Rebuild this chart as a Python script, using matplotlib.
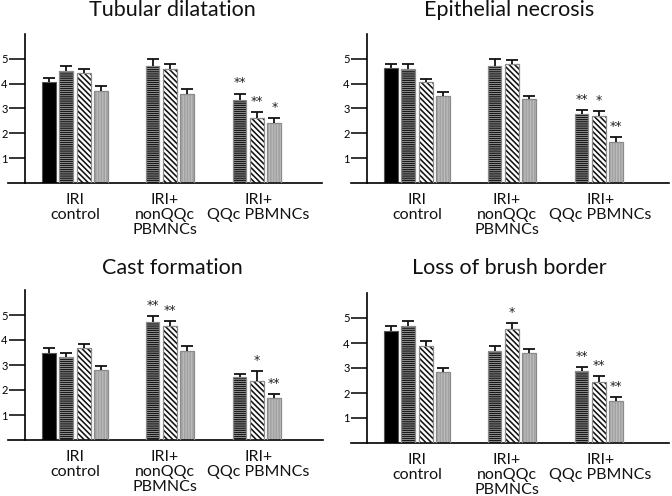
import numpy as np
import matplotlib
matplotlib.use("Agg")
import matplotlib.pyplot as plt
from matplotlib.transforms import offset_copy

plt.rcParams['font.family'] = ['Lato', 'DejaVu Sans']
plt.rcParams['hatch.linewidth'] = 1.15

# ---------------- data ----------------
group_labels = ["IRI\ncontrol", "IRI+\nnonQQc\nPBMNCs", "IRI+\nQQc PBMNCs"]
bar_group = [0, 0, 0, 0, 1, 1, 1, 2, 2, 2]
bar_style = ["solid", "horiz", "diag", "gray",
             "horiz", "diag", "gray",
             "horiz", "diag", "gray"]

titles = ["Tubular dilatation", "Epithelial necrosis", "Cast formation", "Loss of brush border"]

tubular_mean = [4.05, 4.50, 4.43, 3.72, 4.73, 4.59, 3.58, 3.35, 2.61, 2.41]
tubular_err = [0.17, 0.20, 0.17, 0.17, 0.27, 0.21, 0.20, 0.25, 0.25, 0.20]
tubular_sig = ["", "", "", "", "", "", "", "**", "**", "*"]

epithelial_mean = [4.63, 4.59, 4.05, 3.49, 4.73, 4.81, 3.38, 2.79, 2.71, 1.67]
epithelial_err = [0.17, 0.19, 0.14, 0.16, 0.27, 0.16, 0.11, 0.16, 0.20, 0.18]
epithelial_sig = ["", "", "", "", "", "", "", "**", "*", "**"]

cast_mean = [3.49, 3.31, 3.67, 2.80, 4.73, 4.56, 3.57, 2.51, 2.36, 1.69]
cast_err = [0.18, 0.18, 0.16, 0.16, 0.24, 0.21, 0.19, 0.12, 0.41, 0.14]
cast_sig = ["", "", "", "", "**", "**", "", "", "*", "**"]

brush_mean = [4.47, 4.67, 3.89, 2.83, 3.69, 4.57, 3.60, 2.87, 2.44, 1.70]
brush_err = [0.20, 0.20, 0.18, 0.17, 0.18, 0.23, 0.17, 0.16, 0.23, 0.14]
brush_sig = ["", "", "", "", "", "*", "", "**", "**", "**"]

yticks = [1, 2, 3, 4, 5]

# ---------------- layout ----------------
W, H = 672, 496
DPI = 100
PITCH = 17.4  # px per x unit
xpos = np.array([0, 1, 2, 3, 5.95, 6.95, 7.95, 10.95, 11.95, 12.95])
BAR_W = 0.8
label_dx = [0.0, -0.3, 0.1]
# (left_px, right_px, x0_px, baseline_px, top_px, yaxis_px)
panels_px = [
    (8, 322, 49, 183, 34, 25),
    (351, 669, 391, 183, 34, 367),
    (8, 323, 49, 440, 290, 25),
    (351, 669, 391, 443, 293, 367),
]
title_px = [(172, 10), (509, 10), (172, 268), (509, 268)]

fig = plt.figure(figsize=(W / DPI, H / DPI), dpi=DPI)

datasets = [
    (tubular_mean, tubular_err, tubular_sig),
    (epithelial_mean, epithelial_err, epithelial_sig),
    (cast_mean, cast_err, cast_sig),
    (brush_mean, brush_err, brush_sig),
]

edge_gray = "#8a8a8a"

for (means, errs, sigs), (lp, rp, x0, bp, tp, yp), title, (tx, ty) in zip(
        datasets, panels_px, titles, title_px):
    ax = fig.add_axes([lp / W, 1 - bp / H, (rp - lp) / W, (bp - tp) / H])
    ax.set_xlim((lp - x0) / PITCH, (rp - x0) / PITCH)
    ax.set_ylim(0, 6)
    means = np.asarray(means)
    errs = np.asarray(errs)

    for i, style in enumerate(bar_style):
        x = xpos[i]
        m = means[i]
        if style == "solid":
            ax.bar(x, m, BAR_W, color="black", edgecolor="#555555", linewidth=0.8, zorder=2)
        elif style == "horiz":
            ax.bar(x, m, BAR_W, color="white", edgecolor="#1a1a1a", hatch="--------",
                   linewidth=0, zorder=2)
            ax.bar(x, m, BAR_W, fill=False, edgecolor=edge_gray, linewidth=0.9, zorder=3)
        elif style == "diag":
            ax.bar(x, m, BAR_W, color="white", edgecolor="#111111", hatch="\\\\\\\\\\\\",
                   linewidth=0, zorder=2)
            ax.bar(x, m, BAR_W, fill=False, edgecolor=edge_gray, linewidth=0.9, zorder=3)
        else:
            ax.bar(x, m, BAR_W, color="#bdbdbd", edgecolor="#a2a2a2", hatch="||||||",
                   linewidth=0, zorder=2)
            ax.bar(x, m, BAR_W, fill=False, edgecolor=edge_gray, linewidth=0.9, zorder=3)

    eb = ax.errorbar(xpos, means, yerr=[np.zeros_like(errs), errs], fmt="none",
                     ecolor="#111111", elinewidth=1.3, capsize=4.6, capthick=1.3, zorder=4)
    caps = eb[1]
    if len(caps) == 2:
        caps[0].set_visible(False)

    star_tr = offset_copy(ax.transData, fig=fig, x=0, y=3, units="points")
    for i, s in enumerate(sigs):
        if s:
            ax.text(xpos[i], means[i] + errs[i], s, transform=star_tr,
                    ha="center", va="bottom", fontsize=9, color="#222222",
                    family=["DejaVu Sans"])

    for sp in ["top", "right"]:
        ax.spines[sp].set_visible(False)
    ax.spines["left"].set_position(("data", (yp - x0) / PITCH))
    ax.spines["left"].set_bounds(0, 6)
    ax.spines["left"].set_linewidth(1.2)
    ax.spines["bottom"].set_linewidth(1.2)
    ax.set_yticks(yticks)
    ax.set_yticklabels([str(t) for t in yticks])
    ax.tick_params(axis="y", length=11.5, width=1.1, pad=1, labelsize=8)
    ax.set_xticks([])

    lab_tr = offset_copy(ax.get_xaxis_transform(), fig=fig, x=0, y=-7.5, units="points")
    for g, lab in enumerate(group_labels):
        gx = xpos[[i for i in range(len(xpos)) if bar_group[i] == g]].mean() + label_dx[g]
        ax.text(gx, 0, lab, transform=lab_tr, ha="center", va="top",
                fontsize=11.5, linespacing=1.05, color="#111111")

    fig.text(tx / W, 1 - ty / H, title, ha="center", va="center", fontsize=15.5,
             color="#111111")

fig.savefig("out.png", dpi=DPI)
